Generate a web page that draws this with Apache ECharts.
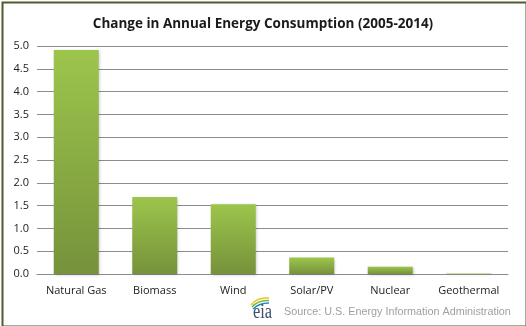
<!DOCTYPE html>
<html>
<head>
<meta charset="utf-8">
<script src="https://cdn.jsdelivr.net/npm/echarts@6/dist/echarts.min.js"></script>
<style>
  html, body { margin: 0; padding: 0; background: #fff; }
  #chart { width: 526px; height: 326px; box-sizing: border-box; }
</style>
</head>
<body>
<div id="chart"></div>
<script>
// Change in annual energy consumption by source, 2005-2014
const titleText = 'Change in Annual Energy Consumption (2005-2014)';
const sourceText = 'Source: U.S. Energy Information Administration';
const categories = ['Natural Gas', 'Biomass', 'Wind', 'Solar/PV', 'Nuclear', 'Geothermal'];
const changeValues = [4.91, 1.69, 1.53, 0.36, 0.16, 0.01];
const yTicks = { min: 0, max: 5, interval: 0.5 };

const chart = echarts.init(document.getElementById('chart'), null, { renderer: 'canvas' });

const barFill = new echarts.graphic.LinearGradient(0, 0, 0, 1, [
  { offset: 0, color: '#9cc54c' },
  { offset: 1, color: '#76923b' }
]);

chart.setOption({
  animation: false,
  backgroundColor: '#ffffff',
  title: {
    text: titleText,
    left: 'center',
    top: 12,
    textStyle: { fontFamily: 'Open Sans', fontWeight: 700, fontSize: 13.5, color: '#1a1a1a' }
  },
  grid: { left: 37, right: 18, top: 46, bottom: 52, containLabel: false },
  xAxis: {
    type: 'category',
    data: categories,
    axisLine: { show: true, lineStyle: { color: '#8c8c8c', width: 1 } },
    axisTick: { show: false },
    axisLabel: { interval: 0, fontFamily: 'Open Sans', fontSize: 11, color: '#222', margin: 11 }
  },
  yAxis: {
    type: 'value',
    min: yTicks.min,
    max: yTicks.max,
    interval: yTicks.interval,
    axisLine: { show: false },
    axisTick: { show: false },
    splitLine: { lineStyle: { color: '#8c8c8c', width: 1 } },
    axisLabel: {
      fontFamily: 'Open Sans', fontSize: 11, color: '#222', margin: 8,
      formatter: v => v.toFixed(1)
    }
  },
  series: [{
    type: 'bar',
    data: changeValues,
    barWidth: 45,
    itemStyle: {
      color: barFill,
      shadowColor: 'rgba(0,0,0,0.22)',
      shadowBlur: 3,
      shadowOffsetX: 1,
      shadowOffsetY: 1
    }
  }],
  graphic: [
    {
      type: 'rect',
      left: 0, top: 0,
      shape: { x: 1, y: 1, width: 524, height: 324 },
      style: { fill: 'none', stroke: '#4e5b2c', lineWidth: 2 },
      silent: true
    },
    // eia logo: three swoosh arcs above lowercase serif letters
    {
      type: 'bezierCurve', x: 250, y: 296, silent: true,
      shape: { x1: 1, y1: 9, cpx1: 7, cpy1: 1, x2: 19, y2: 2 },
      style: { stroke: '#f2c318', lineWidth: 1.5, fill: 'none' }
    },
    {
      type: 'bezierCurve', x: 250, y: 296, silent: true,
      shape: { x1: 2, y1: 11, cpx1: 8, cpy1: 4, x2: 19, y2: 4.5 },
      style: { stroke: '#6fba3c', lineWidth: 1.5, fill: 'none' }
    },
    {
      type: 'bezierCurve', x: 250, y: 296, silent: true,
      shape: { x1: 3, y1: 13, cpx1: 9, cpy1: 7, x2: 19, y2: 7 },
      style: { stroke: '#1e88c8', lineWidth: 1.5, fill: 'none' }
    },
    {
      type: 'text', x: 253, y: 323, scaleX: 0.82, silent: true,
      style: {
        text: 'eia', font: '20px "Liberation Serif", serif', fill: '#3d4f6b',
        verticalAlign: 'bottom', align: 'left'
      }
    },
    {
      type: 'text', x: 284, y: 312, silent: true,
      style: {
        text: sourceText, font: '10.8px "Liberation Sans", Arial, sans-serif', fill: '#a0a0a0',
        verticalAlign: 'middle', align: 'left'
      }
    }
  ]
});
</script>
</body>
</html>
